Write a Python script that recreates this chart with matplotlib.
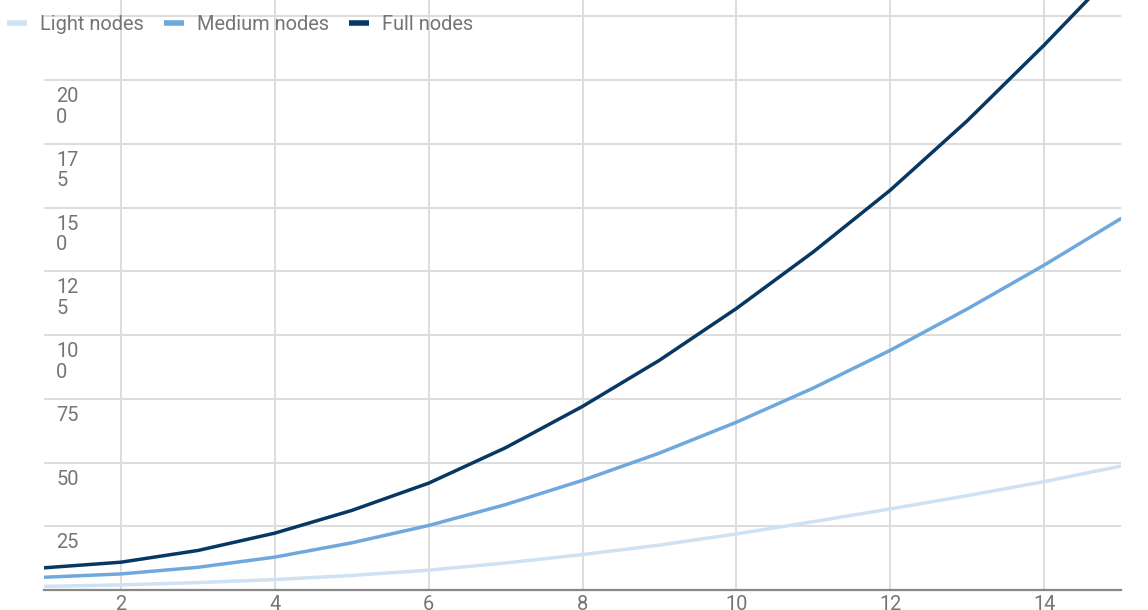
import matplotlib
matplotlib.use("Agg")
import matplotlib.pyplot as plt
from matplotlib.lines import Line2D

plt.rcParams['font.family'] = ['Roboto', 'DejaVu Sans']

# values
x_vals = [1, 2, 3, 4, 5, 6, 7, 8, 9, 10, 11, 12, 13, 14, 15]
light = [1.4, 2.0, 2.9, 4.1, 5.7, 7.8, 10.6, 13.9, 17.6, 22.0, 26.8, 31.8, 37.0, 42.5, 48.6]
medium = [5.0, 6.3, 8.9, 12.9, 18.5, 25.3, 33.5, 43.0, 53.7, 65.8, 79.2, 94.0, 110.2, 127.4, 145.7]
full = [8.7, 10.9, 15.5, 22.3, 31.2, 41.9, 55.8, 72.0, 90.1, 110.4, 132.6, 156.8, 184.0, 213.7, 245.0]

series_names = ["Light nodes", "Medium nodes", "Full nodes"]
colors = ["#cfe2f3", "#6fa8dc", "#073763"]

x_ticks = [2, 4, 6, 8, 10, 12, 14]
y_grid = [25, 50, 75, 100, 125, 150, 175, 200, 225]
# the chart wraps the 3-digit labels onto two lines
y_labels = {25: "25", 50: "50", 75: "75", 100: "10\n0", 125: "12\n5",
            150: "15\n0", 175: "17\n5", 200: "20\n0"}

W, H = 1148, 610
fig = plt.figure(figsize=(W / 100, H / 100), dpi=100)
ax = fig.add_axes([44 / W, 20 / H, 1077 / W, 590 / H])

text_color = "#757575"
grid_color = "#dddddd"

for ys, c in zip([light, medium, full], colors):
    ax.plot(x_vals, ys, color=c, lw=2.5, solid_capstyle='round',
            solid_joinstyle='round', zorder=3)

ax.set_xlim(1, 15)
ax.set_ylim(0, 231.4)

for g in y_grid:
    ax.axhline(g, color=grid_color, lw=1.4, zorder=1)
for t in x_ticks:
    ax.axvline(t, color=grid_color, lw=1.4, zorder=1)

for v, lab in y_labels.items():
    ax.annotate(lab, xy=(0, v), xycoords=ax.get_yaxis_transform(),
                xytext=(12, -7), textcoords='offset pixels',
                ha='left', va='top', fontsize=14.4, color=text_color,
                linespacing=1.1)

for s in ['top', 'right', 'left']:
    ax.spines[s].set_visible(False)
ax.spines['bottom'].set_color('#888888')
ax.spines['bottom'].set_linewidth(1.6)
ax.spines['bottom'].set_zorder(4)

ax.set_xticks(x_ticks)
ax.set_xticklabels([str(t) for t in x_ticks])
ax.set_yticks([])
ax.tick_params(axis='x', length=0, pad=3.5, labelsize=14.4, labelcolor=text_color)

handles = [Line2D([], [], color=c, lw=4, solid_capstyle='butt') for c in colors]
fig.legend(handles, series_names, loc='upper left', bbox_to_anchor=(7 / W, 1 - 15 / H),
           ncol=3, frameon=False, fontsize=14.4, labelcolor=text_color,
           handlelength=1.0, handletextpad=0.65, columnspacing=1.0, borderpad=0,
           borderaxespad=0)

fig.savefig("out.png", dpi=100, facecolor='white')
